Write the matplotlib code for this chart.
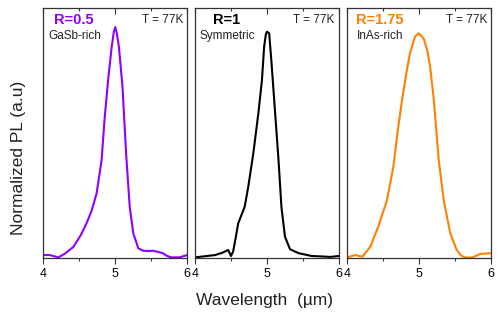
import numpy as np
from matplotlib import pyplot as plt

plt.rcParams['font.family'] = ['Liberation Sans', 'DejaVu Sans']

# wavelength (um) and normalized PL
wl_gasb = [4.00, 4.09, 4.21, 4.30, 4.42, 4.52, 4.60, 4.67, 4.74, 4.81, 4.85, 4.90, 4.95, 4.98,
           5.00, 5.02, 5.05, 5.10, 5.15, 5.20, 5.25, 5.32, 5.385, 5.45, 5.52, 5.60, 5.66, 5.72,
           5.78, 5.89, 6.00]
pl_gasb = [0.014, 0.014, 0.004, 0.020, 0.050, 0.100, 0.151, 0.205, 0.280, 0.425, 0.598, 0.771,
           0.915, 0.980, 1.000, 0.975, 0.915, 0.742, 0.454, 0.223, 0.108, 0.043, 0.033, 0.031,
           0.033, 0.027, 0.022, 0.010, 0.004, 0.004, 0.014]

wl_sym = [4.00, 4.28, 4.38, 4.46, 4.50, 4.53, 4.56, 4.60, 4.69, 4.74, 4.81, 4.88, 4.93, 4.96,
          4.985, 5.00, 5.03, 5.06, 5.11, 5.16, 5.20, 5.25, 5.32, 5.44, 5.62, 5.76, 5.88, 6.00]
pl_sym = [0.004, 0.014, 0.024, 0.036, 0.010, 0.030, 0.080, 0.151, 0.223, 0.310, 0.454, 0.627,
          0.771, 0.915, 0.970, 0.980, 0.973, 0.857, 0.641, 0.425, 0.223, 0.093, 0.039, 0.022,
          0.010, 0.008, 0.006, 0.010]

wl_inas = [4.00, 4.11, 4.21, 4.32, 4.43, 4.55, 4.64, 4.70, 4.76, 4.82, 4.87, 4.94, 4.99, 5.06,
           5.11, 5.15, 5.20, 5.24, 5.27, 5.34, 5.43, 5.52, 5.58, 5.64, 5.73, 5.85, 5.99]
pl_inas = [0.004, 0.014, 0.007, 0.050, 0.137, 0.250, 0.396, 0.550, 0.684, 0.800, 0.886, 0.958,
           0.973, 0.951, 0.900, 0.830, 0.690, 0.540, 0.425, 0.250, 0.108, 0.036, 0.012, 0.003,
           0.003, 0.019, 0.022]

panels = [
    {'x': wl_gasb, 'y': pl_gasb, 'c': '#8f00ff', 'R': 'R=0.5', 'sub': 'GaSb-rich',
     'rx': 0.075, 'sx': 0.035},
    {'x': wl_sym, 'y': pl_sym, 'c': 'black', 'R': 'R=1', 'sub': 'Symmetric',
     'rx': 0.125, 'sx': 0.03},
    {'x': wl_inas, 'y': pl_inas, 'c': '#ff8000', 'R': 'R=1.75', 'sub': 'InAs-rich',
     'rx': 0.06, 'sx': 0.065},
]
lefts = [0.0866, 0.390, 0.6946]
width = 0.288

fig = plt.figure(figsize=(5, 3.16), dpi=100)
for pn, left in zip(panels, lefts):
    ax = fig.add_axes([left, 0.1826, width, 0.791])
    ax.plot(pn['x'], pn['y'], c=pn['c'], lw=1.5)
    ax.set_xlim(4, 6)
    ax.set_ylim(0, 1.081)
    ax.set_xticks([4, 5, 6])
    ax.set_xticklabels(['4', '5', '6'])
    ax.set_xticks([4.5, 5.5], minor=True)
    ax.set_yticks([])
    ax.tick_params(axis='x', which='both', direction='out', top=False, labelsize=9,
                   color='#333333', width=0.8, pad=3)
    ax.tick_params(axis='x', which='major', length=4)
    ax.tick_params(axis='x', which='minor', length=2.5)
    sec = ax.secondary_xaxis('top')
    sec.set_xticks([4, 5, 6])
    sec.set_xticks([4.5, 5.5], minor=True)
    sec.tick_params(axis='x', which='both', direction='in', labeltop=False, color='#333333',
                    width=0.8)
    sec.tick_params(axis='x', which='major', length=4)
    sec.tick_params(axis='x', which='minor', length=2.5)
    sec.spines['top'].set_visible(False)
    for s in ax.spines.values():
        s.set_color('#333333')
        s.set_linewidth(0.9)
    ax.text(pn['rx'], 0.955, pn['R'], transform=ax.transAxes, color=pn['c'],
            fontsize=10.5, fontweight='bold', va='center', ha='left')
    ax.text(pn['sx'], 0.89, pn['sub'], transform=ax.transAxes, color='#222222',
            fontsize=8.5, va='center', ha='left')
    ax.text(0.97, 0.955, 'T = 77K', transform=ax.transAxes, color='#222222',
            fontsize=8.5, va='center', ha='right')

fig.text(0.038, 0.5, 'Normalized PL (a.u)', rotation=90, fontsize=12.5, va='center',
         ha='center', color='#222222')
fig.text(0.53, 0.05, 'Wavelength  (µm)', fontsize=12.5, va='center', ha='center',
         color='#222222')

plt.savefig('out.png', dpi=100)
plt.close()
